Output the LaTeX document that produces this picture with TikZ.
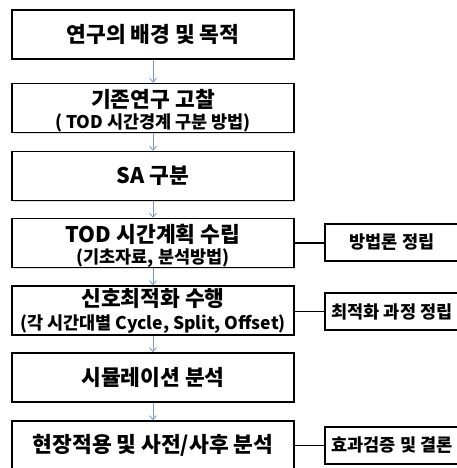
\documentclass[tikz,border=0pt]{standalone}
\usepackage{fontspec}
\setmainfont{Noto Sans CJK KR}
\usetikzlibrary{shadows,arrows.meta}
\begin{document}
\begin{tikzpicture}[x=1pt,y=-1pt,
  mainbox/.style={draw=black,line width=1.6pt,fill=white,minimum width=282pt,minimum height=49pt,inner sep=0pt,
    drop shadow={opacity=0.25,shadow xshift=1.2pt,shadow yshift=-1.2pt},font=\bfseries\fontsize{21.5}{24}\selectfont,align=center},
  sidebox/.style={draw=black,line width=1.6pt,fill=white,minimum width=134pt,minimum height=37pt,inner sep=0pt,
    drop shadow={opacity=0.25,shadow xshift=1.2pt,shadow yshift=-1.2pt},font=\bfseries\fontsize{17.5}{20}\selectfont},
  titletext/.style={font=\bfseries\fontsize{21.5}{24}\selectfont},
  subtext/.style={font=\bfseries\fontsize{17.5}{20}\selectfont},
  flow/.style={draw={rgb,255:red,120;green,150;blue,200},line width=0.8pt,-{Straight Barb[length=4pt,width=7pt]}},
  link/.style={draw=black,line width=1.8pt}]
\useasboundingbox (0,0) rectangle (456,468);
\fill[white] (0,0) rectangle (456,468);
\node[mainbox] (b1) at (153,34.5) {연구의 배경 및 목적};
\node[mainbox] (b2) at (153,108) {};
\node[titletext,anchor=base] (b2t) at (153,107.5) {기존연구 고찰};
\node[subtext,anchor=base] (b2s) at (153,128.5) {( TOD 시간경계 구분 방법)};
\node[mainbox] (b3) at (153,176) {SA 구분};
\node[mainbox] (b4) at (153,243) {};
\node[titletext,anchor=base] (b4t) at (153,242.5) {TOD 시간계획 수립};
\node[subtext,anchor=base] (b4s) at (153,263.5) {(기초자료, 분석방법)};
\node[mainbox] (b5) at (153,310.5) {};
\node[titletext,anchor=base] (b5t) at (153,306) {신호최적화 수행};
\node[subtext,anchor=base] (b5s) at (153,329.5) {(각 시간대별 Cycle, Split, Offset)};
\node[mainbox] (b6) at (153,377.5) {시뮬레이션 분석};
\node[mainbox] (b7) at (153,445.5) {현장적용 및 사전/사후 분석};
\node[sidebox] (r1) at (392,242.5) {방법론 정립};
\node[sidebox] (r2) at (392,311.5) {최적화 과정 정립};
\node[sidebox] (r3) at (392,445.5) {효과검증 및 결론};
\draw[flow] (b1.south) -- (b2.north);
\draw[flow] (b2.south) -- (b3.north);
\draw[flow] (b3.south) -- (b4.north);
\draw[flow] (b4.south) -- (b5.north);
\draw[flow] (b5.south) -- (b6.north);
\draw[flow] (b6.south) -- (b7.north);
\draw[link] (b4.east) -- (r1.west |- b4.east);
\draw[link] (b5.east |- r2.west) -- (r2.west);
\draw[link] (b7.east) -- (r3.west);
\end{tikzpicture}
\end{document}
